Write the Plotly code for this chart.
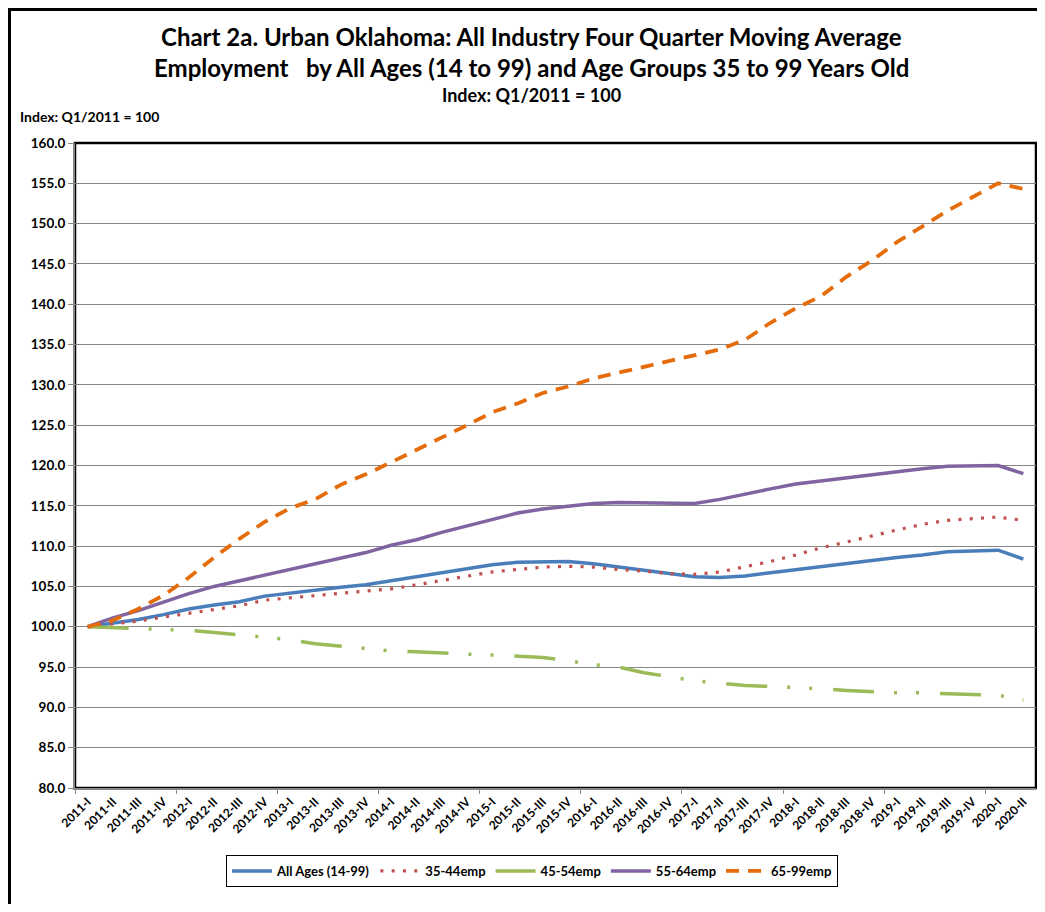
import plotly.graph_objects as go

quarters = [
    "2011-I", "2011-II", "2011-III", "2011-IV",
    "2012-I", "2012-II", "2012-III", "2012-IV",
    "2013-I", "2013-II", "2013-III", "2013-IV",
    "2014-I", "2014-II", "2014-III", "2014-IV",
    "2015-I", "2015-II", "2015-III", "2015-IV",
    "2016-I", "2016-II", "2016-III", "2016-IV",
    "2017-I", "2017-II", "2017-III", "2017-IV",
    "2018-I", "2018-II", "2018-III", "2018-IV",
    "2019-I", "2019-II", "2019-III", "2019-IV",
    "2020-I", "2020-II",
]

all_ages = [100.0, 100.4, 100.9, 101.5, 102.2, 102.7, 103.1, 103.8, 104.2, 104.5,
            104.9, 105.2, 105.7, 106.1, 106.6, 107.1, 107.7, 108.0, 108.1, 108.1,
            107.8, 107.4, 107.0, 106.6, 106.2, 106.1, 106.3, 106.7, 107.1, 107.4,
            107.8, 108.2, 108.6, 108.9, 109.3, 109.4, 109.5, 108.4]

emp35_44 = [100.0, 100.3, 100.7, 101.2, 101.7, 102.2, 102.6, 103.3, 103.6, 103.8,
            104.1, 104.4, 104.7, 105.2, 105.7, 106.2, 106.8, 107.1, 107.4, 107.5,
            107.4, 107.1, 106.9, 106.6, 106.5, 106.8, 107.4, 108.1, 108.9, 109.8,
            110.5, 111.3, 112.0, 112.7, 113.2, 113.4, 113.6, 113.2]

emp45_54 = [100.0, 99.9, 99.7, 99.6, 99.55, 99.3, 99.0, 98.8, 98.4, 97.9,
            97.6, 97.2, 97.0, 96.9, 96.7, 96.6, 96.5, 96.4, 96.2, 95.8,
            95.3, 95.0, 94.3, 93.8, 93.3, 93.0, 92.7, 92.6, 92.5, 92.3,
            92.1, 91.9, 91.8, 91.8, 91.7, 91.6, 91.5, 90.9]

emp55_64 = [100.0, 101.1, 102.0, 103.1, 104.1, 105.0, 105.7, 106.5, 107.2, 107.9,
            108.5, 109.2, 110.1, 110.8, 111.7, 112.5, 113.4, 114.1, 114.6, 115.0,
            115.3, 115.4, 115.4, 115.4, 115.3, 115.8, 116.5, 117.1, 117.7, 118.1,
            118.4, 118.9, 119.3, 119.6, 119.9, 120.0, 120.0, 119.0]

emp65_99 = [100.0, 100.8, 102.2, 103.9, 106.1, 108.6, 110.9, 113.0, 114.7, 115.8,
            117.6, 118.9, 120.4, 121.9, 123.4, 125.0, 126.6, 127.7, 129.0, 129.8,
            130.8, 131.5, 132.2, 132.9, 133.7, 134.4, 135.6, 137.7, 139.5, 141.0,
            143.4, 145.4, 147.7, 149.7, 151.6, 153.3, 155.0, 154.3]

series_names = ["All Ages (14-99)", "35-44emp", "45-54emp", "55-64emp", "65-99emp"]

# ---- layout geometry (pixels). The page body adds an 8px offset. ----
OFF = 8
W, H = 1045 - 2 * OFF, 912 - 2 * OFF
L, R, T, B = 67, 1, 135, 116
PW, PH = W - L - R, H - T - B


def px(sx):
    """screen x -> paper x"""
    return (sx - OFF - L) / PW


def py(sy):
    """screen y -> paper y"""
    return (H - B - (sy - OFF)) / PH


FONT = "Lato, 'Open Sans', sans-serif"
GRAY = "#868686"

fig = go.Figure()

styles = [
    dict(color="#4A7EBB", width=3.5, dash="solid"),
    dict(color="#C0504D", width=3.2, dash="3px,8.3px"),
    dict(color="#9BBB59", width=3.5, dash="41px,20px,3px,19px,3px,21px"),
    dict(color="#8064A2", width=3.5, dash="solid"),
    dict(color="#E46C0A", width=3.8, dash="13px,9px"),
]
for name, vals, st in zip(series_names,
                          [all_ages, emp35_44, emp45_54, emp55_64, emp65_99],
                          styles):
    fig.add_trace(go.Scatter(x=quarters, y=vals, mode="lines", name=name,
                             line=st, hoverinfo="skip"))

# invisible helper trace so the tick-mark axis is drawn
fig.add_trace(go.Scatter(x=[], y=[], xaxis="x2", showlegend=False, hoverinfo="skip"))

tick_bounds = [i - 0.5 for i in range(0, len(quarters), 4)]

fig.update_layout(
    width=W, height=H,
    margin=dict(l=L, r=R, t=T, b=B, pad=0, autoexpand=False),
    paper_bgcolor="white", plot_bgcolor="white",
    font=dict(family=FONT, color="black"),
    showlegend=True,
    legend=dict(orientation="h", x=px(532), xanchor="center",
                y=py(855), yanchor="top",
                bordercolor="black", borderwidth=1, bgcolor="white",
                font=dict(family=FONT, size=13, color="black", weight="bold"),
                itemwidth=40, tracegroupgap=0),
    xaxis=dict(type="category", range=[-0.5, len(quarters) - 0.5],
               automargin=False,
               showgrid=False, zeroline=False,
               showline=True, linecolor=GRAY, linewidth=2,
               ticks="", tickangle=-45,
               tickfont=dict(family=FONT, size=12, color="black", weight="bold")),
    xaxis2=dict(overlaying="x", anchor="y", type="linear", automargin=False,
                range=[-0.5, len(quarters) - 0.5],
                tickmode="array", tickvals=tick_bounds, showticklabels=False,
                ticks="outside", ticklen=5, tickwidth=1, tickcolor=GRAY,
                showgrid=False, zeroline=False, showline=False, side="bottom"),
    yaxis=dict(range=[80, 160], dtick=5, tick0=80, tickformat=".1f",
               automargin=False,
               showgrid=True, gridcolor=GRAY, gridwidth=1,
               zeroline=False, showline=True, linecolor=GRAY, linewidth=2,
               ticks="outside", ticklen=5, tickcolor=GRAY,
               tickfont=dict(family=FONT, size=13.5, color="black", weight="bold")),
)

# plot-area frame (black top/right) and outer chart border
fig.add_shape(type="rect", xref="paper", yref="paper", x0=0, y0=0, x1=1, y1=1,
              line=dict(color="black", width=2.5), layer="below")
fig.add_shape(type="rect", xref="paper", yref="paper",
              x0=px(9.5), y0=py(9.5), x1=px(1100), y1=py(960),
              line=dict(color="black", width=3), layer="below")

annos = [
    ("Chart 2a. Urban Oklahoma: All Industry Four Quarter Moving Average", 531, 36, 24, "center"),
    ("Employment   by All Ages (14 to 99) and Age Groups 35 to 99 Years Old", 531, 67, 24, "center"),
    ("Index: Q1/2011 = 100", 531, 95, 18, "center"),
]
for text, xp, yp, size, anc in annos:
    fig.add_annotation(text=text, xref="paper", yref="paper", x=px(xp), y=py(yp),
                       xanchor=anc, yanchor="middle", showarrow=False,
                       font=dict(family=FONT, size=size, color="black", weight="bold"))
fig.add_annotation(text="Index: Q1/2011 = 100", xref="paper", yref="paper",
                   x=px(18), y=py(116), xanchor="left", yanchor="middle",
                   showarrow=False,
                   font=dict(family=FONT, size=14, color="black", weight="bold"))

fig.write_html("out.html")
